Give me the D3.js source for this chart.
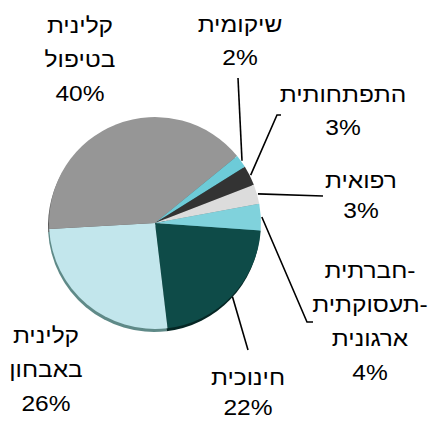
<!DOCTYPE html>
<html><head><meta charset="utf-8">
<script src="https://cdn.jsdelivr.net/npm/d3@7"></script>
<style>
html,body{margin:0;padding:0;background:#fff;}
svg{display:block;}
text{font-family:"Liberation Sans",Arial,sans-serif;font-size:21.5px;fill:#000;}
</style></head><body>
<div id="chart"></div>
<script>
// Data (clockwise from the right-hand side of the pie)
const categories = ["חינוכית", "קלינית באבחון", "קלינית בטיפול", "שיקומית", "התפתחותית", "רפואית", "חברתית-תעסוקתית-ארגונית"];
const values = [22, 26, 40, 2, 3, 3, 4];
const labelLines = [["חינוכית"], ["קלינית", "באבחון"], ["קלינית", "בטיפול"], ["שיקומית"], ["התפתחותית"], ["רפואית"], ["חברתית-", "תעסוקתית-", "ארגונית"]];

// Styles / layout
const colors = ["#0e4b48", "#c2e6ec", "#969696", "#6dcbd8", "#333333", "#dcdcdc", "#80d2dc"];
const edgeColors = ["#052624", "#5f8a88", "#5a5a5a", "#3f8a94", "#1a1a1a", "#8a8a8a", "#4a8f97"];
const W = 430, H = 421;
const cx = 155, cy = 223, R = 106;
const startDeg = 94;
const stretchX = 1.14;
// label anchor (center x, first baseline y), line spacing
const labelPos = [[248, 385], [46, 343], [80, 33], [240, 32], [343, 102], [361, 188], [370, 278]];
const lineGap = [30.5, 34, 34, 33, 33, 30, 34];
// leader line end points
const leaders = [
  [[248, 350]],
  null,
  null,
  [[238, 78]],
  [[277, 115], [281, 115]],
  [[323, 196]],
  [[307, 322], [313, 322]]
];

const svg = d3.select("#chart").append("svg").attr("width", W).attr("height", H);

const pie = d3.pie().sort(null).value(d => d)
  .startAngle(startDeg * Math.PI / 180)
  .endAngle(startDeg * Math.PI / 180 + 2 * Math.PI);
const arcs = pie(values);
const arc = d3.arc().innerRadius(0).outerRadius(R);

// 3D-ish edge
const gEdge = svg.append("g").attr("transform", `translate(${cx - 1},${cy + 3})`);
gEdge.selectAll("path").data(arcs).join("path")
  .attr("d", arc).attr("fill", (d, i) => edgeColors[i]);

const g = svg.append("g").attr("transform", `translate(${cx},${cy})`);
g.selectAll("path").data(arcs).join("path")
  .attr("d", arc).attr("fill", (d, i) => colors[i]);

// leader lines
arcs.forEach((a, i) => {
  if (!leaders[i]) return;
  const mid = (a.startAngle + a.endAngle) / 2;
  const r0 = R + 1;
  const p0 = [cx + r0 * Math.sin(mid), cy - r0 * Math.cos(mid)];
  const pts = [p0].concat(leaders[i]);
  svg.append("path")
    .attr("d", d3.line()(pts))
    .attr("fill", "none").attr("stroke", "#000").attr("stroke-width", 1.6);
});

// labels
arcs.forEach((a, i) => {
  const [x, y] = labelPos[i];
  const lines = labelLines[i].concat([Math.round(values[i]) + "%"]);
  const lg = svg.append("g").attr("transform", `translate(${x},${y}) scale(${stretchX},1)`);
  const t = lg.append("text").attr("text-anchor", "middle").attr("direction", "ltr");
  lines.forEach((ln, k) => {
    t.append("tspan").attr("x", 0).attr("y", k * lineGap[i]).text(ln);
  });
});
</script>
</body></html>
